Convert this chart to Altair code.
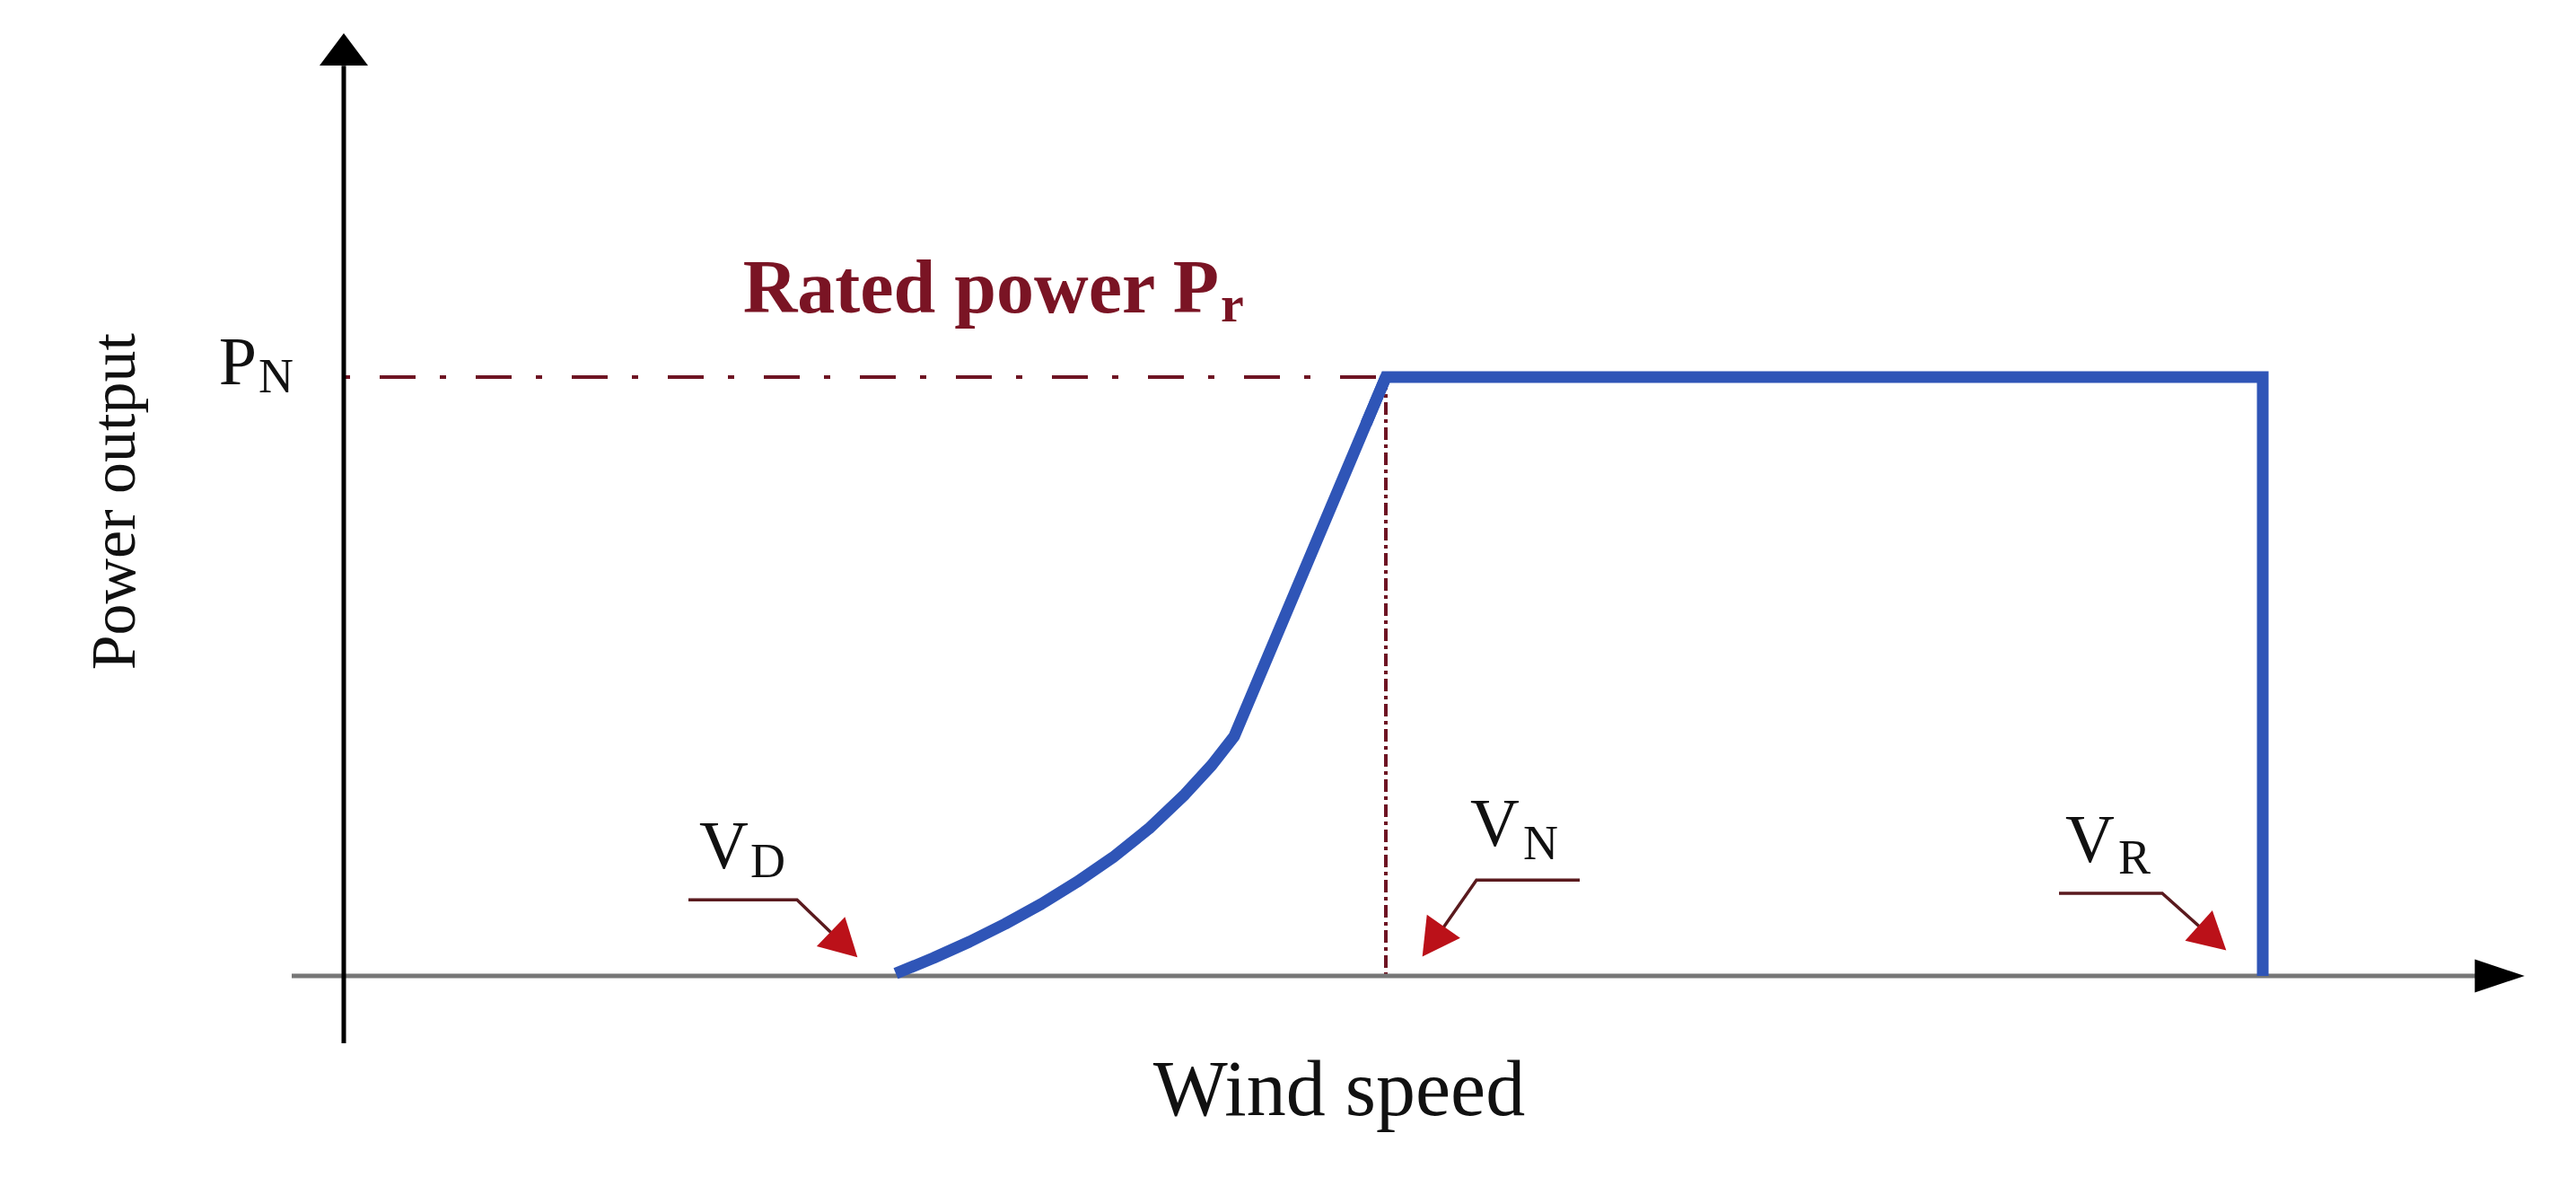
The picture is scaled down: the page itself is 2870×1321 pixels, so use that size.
import altair as alt
import pandas as pd

# ---- scale frame (wind speed in arbitrary units, power in per-unit) ----
X_DOMAIN = [-37.5, 247.9]
Y_DOMAIN = [-0.3388, 1.6177]

# ---- power curve: rising part (cut-in -> rated) ----
rise_speed = [61.5, 65.7, 69.7, 73.7, 77.7, 81.7, 85.7, 89.7, 93.7, 96.7, 99.2, 116.1]
rise_power = [0.004, 0.030, 0.057, 0.087, 0.120, 0.157, 0.198, 0.246, 0.303, 0.352, 0.400, 1.0]
# ---- rated plateau and cut-out drop ----
flat_speed = [113.9, 116.1, 213.8, 213.8]
flat_power = [0.922, 1.0, 1.0, 0.0]

V_D, V_N, V_R = 61.5, 116.1, 213.8
P_N = 1.0

# ---- axis lines / arrow heads ----
yaxis_span = [-0.1124, 1.52]
xaxis_span = [-5.8, 237.5]
axis_head_x = [0.0, 240.2]
axis_head_y = [1.5472, 0.0]
axis_head_shape = ["M0,-1L1.5,1L-1.5,1Z", "M1.5,0L-1.5,-1L-1.5,1Z"]
axis_head_size = [1296, 1369]

# ---- annotation leaders (label, x, y) ----
leader_label = ["VD", "VD", "VD", "VN", "VN", "VN", "VR", "VR", "VR"]
leader_x = [38.4, 50.5, 55.7, 137.7, 126.2, 121.4, 191.1, 202.6, 208.2]
leader_y = [0.127, 0.127, 0.052, 0.160, 0.160, 0.057, 0.138, 0.138, 0.063]
head_x = [55.75, 121.35, 208.2]
head_y = [0.0525, 0.0574, 0.0634]
head_angle = [134, 215, 132]

# ---- labels ----
main_text = ["V", "V", "V", "P"]
main_x = [45.1, 131.0, 197.3, -9.7]
main_y = [0.180, 0.217, 0.190, 0.988]
sub_text = ["D", "N", "R", "N"]
sub_x = [45.3, 131.4, 197.7, -9.5]
sub_y = [0.165, 0.195, 0.171, 0.975]

rated_text = ["Rated power P"]
rated_x, rated_y = [97.5], [1.108]
rated_sub = ["r"]
rated_sub_x, rated_sub_y = [97.7], [1.093]

xlabel = ["Wind speed"]
xlabel_x, xlabel_y = [110.9], [-0.232]
ylabel = ["Power output"]
ylabel_x, ylabel_y = [-23.3], [0.792]

FONT = "Liberation Serif"
BLUE = "#2f55b7"
MAROON = "#6e1423"

xs = alt.Scale(domain=X_DOMAIN, nice=False, zero=False)
ys = alt.Scale(domain=Y_DOMAIN, nice=False, zero=False)


def X(f="x"):
    return alt.X(f"{f}:Q", scale=xs, axis=None)


def Y(f="y"):
    return alt.Y(f"{f}:Q", scale=ys, axis=None)


rise_df = pd.DataFrame({"x": rise_speed, "y": rise_power, "i": list(range(len(rise_speed)))})
rise = alt.Chart(rise_df).mark_line(
    color=BLUE, strokeWidth=13, strokeCap="butt", strokeJoin="round"
).encode(x=X(), y=Y(), order=alt.Order("i:Q"))

flat_df = pd.DataFrame({"x": flat_speed, "y": flat_power, "i": list(range(len(flat_speed)))})
flat = alt.Chart(flat_df).mark_line(
    color=BLUE, strokeWidth=13, strokeCap="butt", strokeJoin="miter"
).encode(x=X(), y=Y(), order=alt.Order("i:Q"))

rated_line = alt.Chart(pd.DataFrame({"x": [0.0], "x2": [V_N], "y": [P_N]})).mark_rule(
    color=MAROON, strokeWidth=4, strokeDash=[7, 33, 40, 27]
).encode(x=X(), x2="x2:Q", y=Y())

vn_line = alt.Chart(pd.DataFrame({"x": [V_N], "y": [P_N], "y2": [0.0]})).mark_rule(
    color=MAROON, strokeWidth=4, strokeDash=[14, 5, 4, 5]
).encode(x=X(), y=Y(), y2="y2:Q")

yaxis = alt.Chart(pd.DataFrame({"x": [0.0], "y": [yaxis_span[0]], "y2": [yaxis_span[1]]})).mark_rule(
    color="#000000", strokeWidth=5
).encode(x=X(), y=Y(), y2="y2:Q")

xaxis = alt.Chart(pd.DataFrame({"x": [xaxis_span[0]], "x2": [xaxis_span[1]], "y": [0.0]})).mark_rule(
    color="#777777", strokeWidth=5
).encode(x=X(), x2="x2:Q", y=Y())

head_layers = []
for hx, hy, shp, sz in zip(axis_head_x, axis_head_y, axis_head_shape, axis_head_size):
    head_layers.append(
        alt.Chart(pd.DataFrame({"x": [hx], "y": [hy]})).mark_point(
            shape=shp, size=sz, filled=True, color="#000000", opacity=1, strokeWidth=0
        ).encode(x=X(), y=Y())
    )

leader_df = pd.DataFrame({"g": leader_label, "x": leader_x, "y": leader_y, "i": list(range(len(leader_x)))})
leaders = alt.Chart(leader_df).mark_line(color="#5a1a1e", strokeWidth=3.5).encode(
    x=X(), y=Y(), detail="g:N", order=alt.Order("i:Q")
)

heads_df = pd.DataFrame({"x": head_x, "y": head_y, "a": head_angle})
heads = alt.Chart(heads_df).mark_point(
    shape="M0,-1L1.1,1L-1.1,1Z", size=1700, filled=True, color="#bb1119", opacity=1, strokeWidth=0
).encode(x=X(), y=Y(), angle=alt.Angle("a:Q", scale=None))

main_df = pd.DataFrame({"x": main_x, "y": main_y, "t": main_text})
mains = alt.Chart(main_df).mark_text(
    font=FONT, fontSize=76, align="right", baseline="alphabetic", color="#111111"
).encode(x=X(), y=Y(), text="t:N")

sub_df = pd.DataFrame({"x": sub_x, "y": sub_y, "t": sub_text})
subs = alt.Chart(sub_df).mark_text(
    font=FONT, fontSize=54, align="left", baseline="alphabetic", color="#111111"
).encode(x=X(), y=Y(), text="t:N")

rated = alt.Chart(pd.DataFrame({"x": rated_x, "y": rated_y, "t": rated_text})).mark_text(
    font=FONT, fontSize=84, fontWeight="bold", align="right", baseline="alphabetic", color="#7a1424"
).encode(x=X(), y=Y(), text="t:N")

rated_r = alt.Chart(pd.DataFrame({"x": rated_sub_x, "y": rated_sub_y, "t": rated_sub})).mark_text(
    font=FONT, fontSize=58, fontWeight="bold", align="left", baseline="alphabetic", color="#7a1424"
).encode(x=X(), y=Y(), text="t:N")

xlab = alt.Chart(pd.DataFrame({"x": xlabel_x, "y": xlabel_y, "t": xlabel})).mark_text(
    font=FONT, fontSize=88, align="center", baseline="alphabetic", color="#111111"
).encode(x=X(), y=Y(), text="t:N")

ylab = alt.Chart(pd.DataFrame({"x": ylabel_x, "y": ylabel_y, "t": ylabel})).mark_text(
    font=FONT, fontSize=70, align="center", baseline="alphabetic", angle=270, color="#111111"
).encode(x=X(), y=Y(), text="t:N")

chart = alt.layer(
    rated_line, vn_line, xaxis, yaxis, *head_layers, rise, flat, leaders, heads,
    mains, subs, rated, rated_r, xlab, ylab
).properties(
    width=2854, height=1305, padding=0, autosize=alt.AutoSizeParams(type="none"),
    background="#ffffff"
).configure_view(stroke=None)

chart.save("out.html", embed_options={"renderer": "svg", "actions": False})
